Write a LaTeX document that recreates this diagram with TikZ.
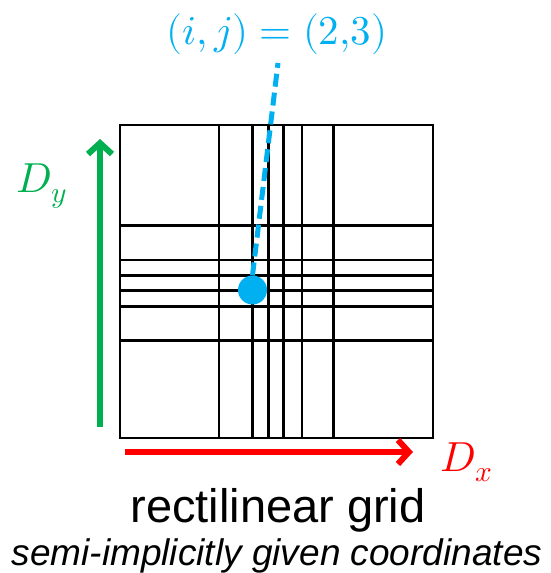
\documentclass[tikz,border=0pt]{standalone}
\usepackage{fontspec}
\usepackage{unicode-math}
\setmainfont{Liberation Sans}
\usetikzlibrary{arrows.meta,positioning}
\definecolor{cellblue}{RGB}{0,176,240}
\definecolor{dygreen}{RGB}{0,176,80}
\definecolor{dxred}{RGB}{255,0,0}

\begin{document}
\begin{tikzpicture}[x=1pt,y=-1pt,
  gridline/.style={line width=2.5pt,black},
  axisarrow/.style={line width=6pt,-{Straight Barb[length=11pt,width=24pt]}},
  axislabel/.style={font=\fontsize{42}{48}\selectfont}]
  \useasboundingbox (0,0) rectangle (550,573);

  % the grid
  \draw[gridline] (120,125) rectangle (433,438);
  \foreach \gx in {219,252.7,268.3,283.7,302,333.3}
    \draw[gridline] (\gx,125) -- (\gx,438);
  \foreach \gy in {225.7,260,275.3,290.7,306.3,340.3}
    \draw[gridline] (120,\gy) -- (433,\gy);

  % the selected cell
  \node[circle,fill=cellblue,inner sep=0pt,minimum size=29pt] (cell) at (252.5,290) {};
  \node[text=cellblue,font=\fontsize{41}{48}\selectfont] (idx) at (277,34) {$(i,j)=(2{,}3)$};
  \coordinate (idxfoot) at (278,63);
  \draw[cellblue,line width=5pt,dash pattern=on 13pt off 6pt] (cell.north) -- (idxfoot);

  % axes
  \coordinate (ytail) at (100,427);
  \coordinate (yhead) at (100,139);
  \draw[axisarrow,dygreen] (ytail) -- (yhead);
  \node[axislabel,text=dygreen] (Dy) at (42,186) {$D_y$};
  \coordinate (xtail) at (125,452);
  \coordinate (xhead) at (413,452);
  \draw[axisarrow,dxred] (xtail) -- (xhead);
  \node[axislabel,text=dxred] (Dx) at (467,462) {$D_x$};

  % captions
  \node[anchor=base,font=\fontsize{47}{54}\selectfont] (title) at (278,522) {rectilinear grid};
  \node[anchor=base,font=\fontsize{37}{44}\selectfont\itshape] (subtitle) at (277,565) {semi-implicitly given coordinates};
\end{tikzpicture}
\end{document}
